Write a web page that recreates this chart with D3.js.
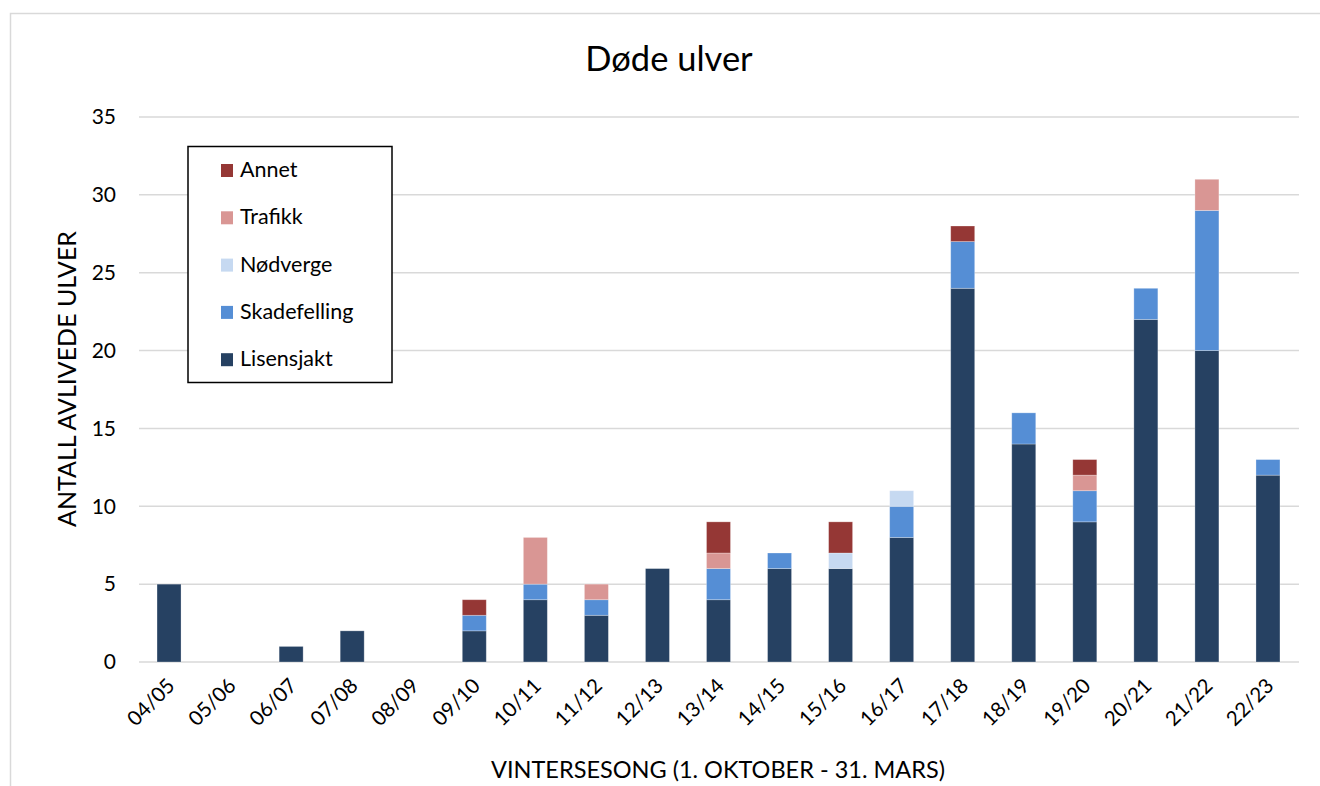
<!DOCTYPE html>
<html><head><meta charset="utf-8">
<script src="https://cdn.jsdelivr.net/npm/d3@7"></script>
<style>body{margin:0;background:#fff;}svg{display:block;}svg text{font-family:Lato,"Open Sans",sans-serif;}</style>
</head><body>
<script>
const categories = ["04/05","05/06","06/07","07/08","08/09","09/10","10/11","11/12","12/13","13/14","14/15","15/16","16/17","17/18","18/19","19/20","20/21","21/22","22/23"];
const lisensjakt   = [5,0,1,2,0,2,4,3,6,4,6,6,8,24,14,9,22,20,12];
const skadefelling = [0,0,0,0,0,1,1,1,0,2,1,0,2,3,2,2,2,9,1];
const nodverge     = [0,0,0,0,0,0,0,0,0,0,0,1,1,0,0,0,0,0,0];
const trafikk      = [0,0,0,0,0,0,3,1,0,1,0,0,0,0,0,1,0,2,0];
const annet        = [0,0,0,0,0,1,0,0,0,2,0,2,0,1,0,1,0,0,0];
const seriesNames = ["Lisensjakt","Skadefelling","Nødverge","Trafikk","Annet"];
const seriesValues = [lisensjakt, skadefelling, nodverge, trafikk, annet];
const colors = ["#264162","#558ed5","#c6d9f1","#d99694","#953735"];
const yTicks = [0,5,10,15,20,25,30,35];

const W = 1320, H = 786;
const svg = d3.select("body").append("svg").attr("width", W).attr("height", H);
svg.append("rect").attr("x",10.5).attr("y",13.5).attr("width",1320).attr("height",800)
  .attr("fill","#fff").attr("stroke","#d9d9d9").attr("stroke-width",1.5);

const x = d3.scaleBand().domain(categories).range([138.5, 1298.5]).paddingInner(0.607).paddingOuter(0.3035);
const y = d3.scaleLinear().domain([0,35]).range([662,117]);

// gridlines
svg.append("g").selectAll("line").data(yTicks).join("line")
  .attr("x1",139).attr("x2",1299).attr("y1",d=>y(d)).attr("y2",d=>y(d))
  .attr("stroke","#d9d9d9").attr("stroke-width",1.5);

// y tick labels
const yAxis = d3.axisLeft(y).tickValues(yTicks).tickSize(0).tickPadding(0);
const yg = svg.append("g").attr("transform","translate(116,0)").call(yAxis);
yg.attr("font-family",null).attr("font-size",null);
yg.select(".domain").remove();
yg.selectAll("text").attr("font-size",21).attr("fill","#000");

// stacked data
const table = categories.map((c,i)=>{const o={cat:c}; seriesNames.forEach((s,j)=>o[s]=seriesValues[j][i]); return o;});
const stack = d3.stack().keys(seriesNames)(table);
svg.append("g").selectAll("g").data(stack).join("g").attr("fill",(d,i)=>colors[i])
  .selectAll("rect").data(d=>d.filter(p=>p[1]-p[0]>0)).join("rect")
  .attr("x",d=>x(d.data.cat)).attr("width",x.bandwidth())
  .attr("y",d=>y(d[1])).attr("height",d=>y(d[0])-y(d[1]))
  .attr("stroke","rgba(255,255,255,0.35)").attr("stroke-width",0.8);

// x axis labels
const xAxis = d3.axisBottom(x).tickSize(0).tickPadding(0);
const xg = svg.append("g").attr("transform","translate(0,662)").call(xAxis);
xg.attr("font-family",null).attr("font-size",null);
xg.select(".domain").remove();
xg.selectAll("text").attr("font-size",20.5).attr("fill","#000")
  .attr("text-anchor","end").attr("dy",0)
  .attr("transform","translate(7,25) rotate(-45)");

// titles
svg.append("text").attr("x",669).attr("y",71).attr("text-anchor","middle")
  .attr("font-size",34.5).attr("fill","#000").text("Døde ulver");
svg.append("text").attr("x",718).attr("y",778).attr("text-anchor","middle")
  .attr("font-size",23.5).attr("fill","#000").text("VINTERSESONG (1. OKTOBER - 31. MARS)");
svg.append("text").attr("transform","translate(76,379) rotate(-90)").attr("text-anchor","middle")
  .attr("font-size",25).attr("fill","#000").text("ANTALL AVLIVEDE ULVER");

// legend
const lg = svg.append("g");
lg.append("rect").attr("x",188).attr("y",146.5).attr("width",204).attr("height",236)
  .attr("fill","#fff").attr("stroke","#000").attr("stroke-width",1.5);
const legendOrder = [4,3,2,1,0];
legendOrder.forEach((si,k)=>{
  const cy = 170 + k*47.3;
  lg.append("rect").attr("x",221).attr("y",cy-6).attr("width",12).attr("height",13).attr("fill",colors[si]);
  lg.append("text").attr("x",240).attr("y",cy+7).attr("font-size",21.5).attr("fill","#000").text(seriesNames[si]);
});
</script>
</body></html>
